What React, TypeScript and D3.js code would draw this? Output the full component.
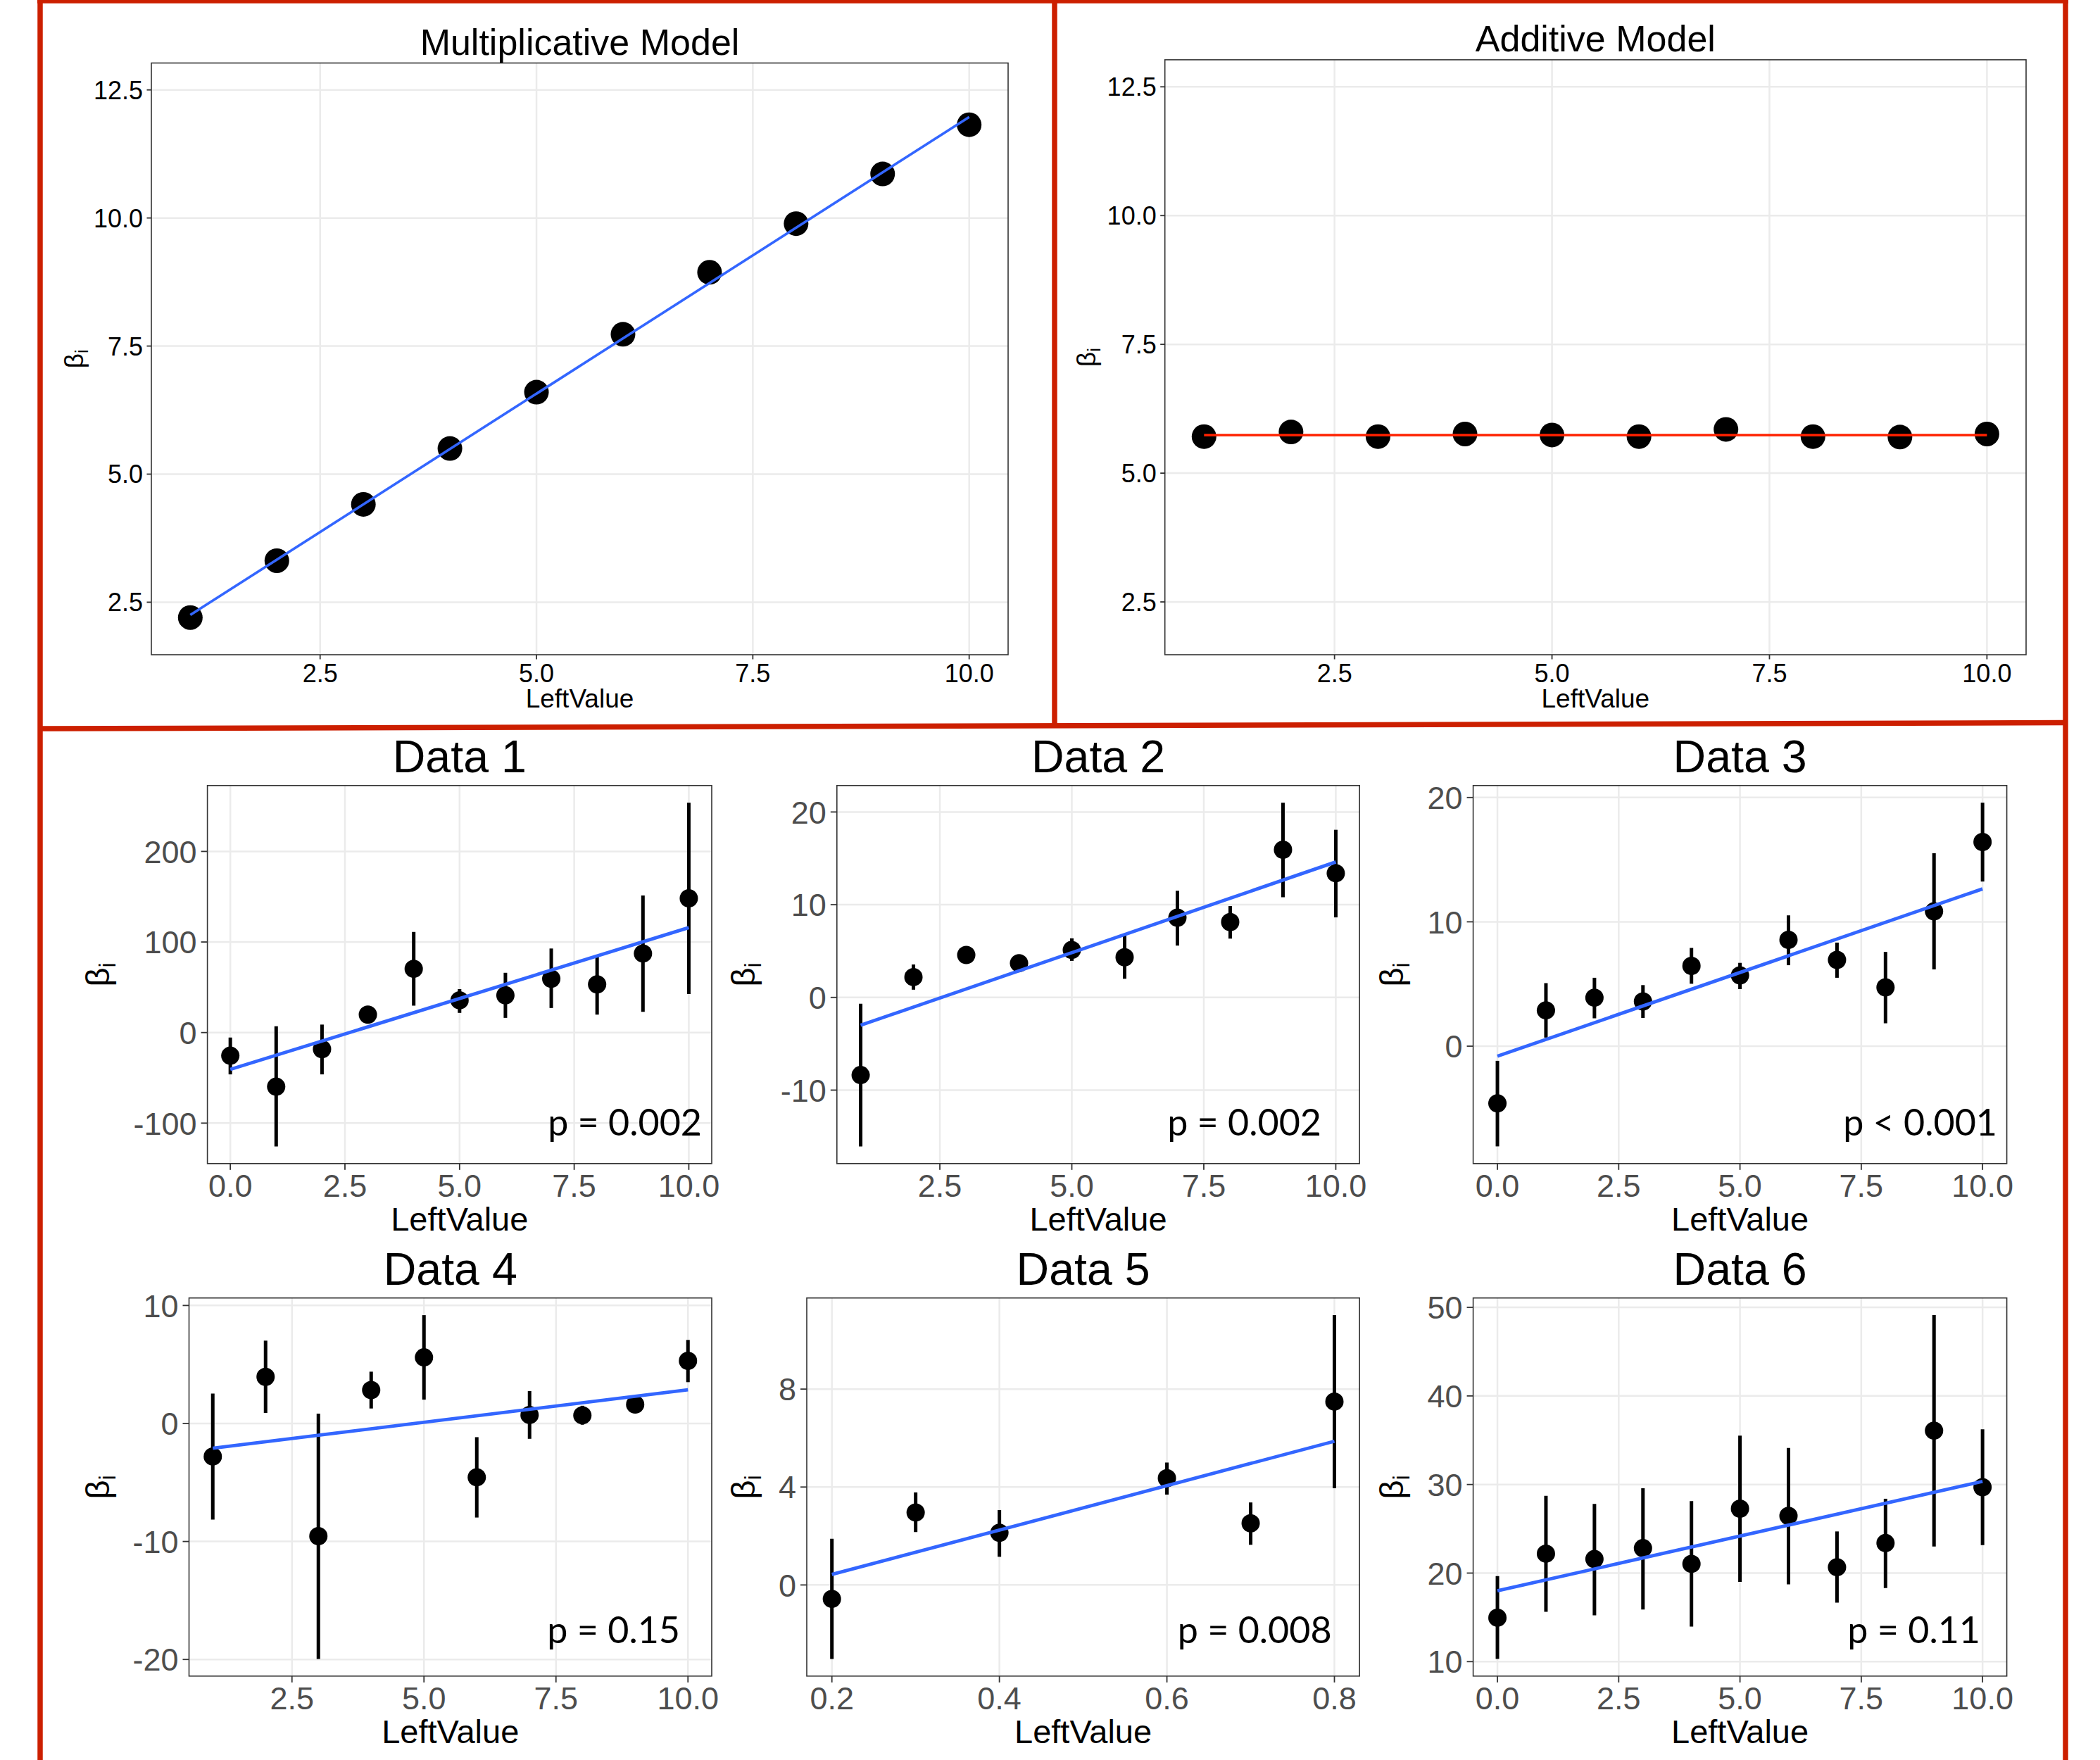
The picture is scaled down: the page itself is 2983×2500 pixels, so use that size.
import React from "react";
import * as d3 from "d3";

// ---------------- data ----------------
// Top row: Multiplicative / Additive models
const topLeftValue = [1, 2, 3, 4, 5, 6, 7, 8, 9, 10];
const multiplicativeBeta = [2.2, 3.31, 4.41, 5.5, 6.6, 7.73, 8.94, 9.89, 10.86, 11.82];
const multiplicativeFit = [2.25, 11.97];
const additiveBeta = [5.71, 5.8, 5.71, 5.76, 5.74, 5.71, 5.85, 5.71, 5.7, 5.76];
const additiveFit = [5.74, 5.74];
const topYRange = [2, 12.5];
const topYTicks = [2.5, 5.0, 7.5, 10.0, 12.5];
const topXTicks = [2.5, 5.0, 7.5, 10.0];

// Data 1
const d1X = [0, 1, 2, 3, 4, 5, 6, 7, 8, 9, 10];
const d1Beta = [-25.6, -59.8, -18.3, 19.8, 70.4, 35.6, 41.1, 59.4, 53.2, 87.3, 148.2];
const d1Lo = [-46.2, -125.7, -46.2, 14, 29.7, 21.7, 16.2, 27.1, 19.8, 22.8, 42.5];
const d1Hi = [-5.5, 7.0, 8.8, 26, 111.1, 48, 66, 92.8, 85.8, 151.4, 253.8];
const d1Fit = [-40.7, 115.9];
const d1YTicks = [-100, 0, 100, 200];
const d1XTicks = [0, 2.5, 5, 7.5, 10];

// Data 2
const d2X = [1, 2, 3, 4, 5, 6, 7, 8, 9, 10];
const d2Beta = [-8.38, 2.19, 4.58, 3.69, 5.12, 4.33, 8.6, 8.13, 15.93, 13.39];
const d2Lo = [-16.07, 0.83, 3.9, 3.0, 3.94, 2.01, 5.59, 6.34, 10.81, 8.63];
const d2Hi = [-0.68, 3.55, 5.3, 4.4, 6.37, 6.66, 11.5, 9.85, 21.0, 18.08];
const d2Fit = [-3.0, 14.61];
const d2YTicks = [-10, 0, 10, 20];
const d2XTicks = [2.5, 5, 7.5, 10];

// Data 3
const d3X = [0, 1, 2, 3, 4, 5, 6, 7, 8, 9, 10];
const d3Beta = [-4.6, 2.88, 3.9, 3.6, 6.46, 5.69, 8.55, 6.94, 4.73, 10.84, 16.42];
const d3Lo = [-8.06, 0.69, 2.24, 2.27, 5.02, 4.59, 6.51, 5.5, 1.84, 6.17, 13.24];
const d3Hi = [-1.18, 5.07, 5.5, 4.91, 7.9, 6.7, 10.52, 8.33, 7.58, 15.51, 19.58];
const d3Fit = [-0.8, 12.65];
const d3YTicks = [0, 10, 20];
const d3XTicks = [0, 2.5, 5, 7.5, 10];

// Data 4
const d4X = [1, 2, 3, 4, 5, 6, 7, 8, 9, 10];
const d4Beta = [-2.8, 3.95, -9.55, 2.83, 5.6, -4.56, 0.72, 0.69, 1.61, 5.31];
const d4Lo = [-8.14, 0.89, -19.95, 1.27, 2.02, -7.97, -1.3, -0.1, 0.9, 3.5];
const d4Hi = [2.54, 7.02, 0.84, 4.39, 9.18, -1.16, 2.75, 1.5, 2.3, 7.08];
const d4Fit = [-2.1, 2.86];
const d4YTicks = [-20, -10, 0, 10];
const d4XTicks = [2.5, 5, 7.5, 10];

// Data 5
const d5X = [0.2, 0.3, 0.4, 0.6, 0.7, 0.8];
const d5Beta = [-0.57, 2.96, 2.13, 4.36, 2.52, 7.49];
const d5Lo = [-3.02, 2.16, 1.15, 3.69, 1.64, 3.95];
const d5Hi = [1.89, 3.78, 3.06, 5.0, 3.37, 11.02];
const d5Fit = [0.43, 5.87];
const d5YTicks = [0, 4, 8];
const d5XTicks = [0.2, 0.4, 0.6, 0.8];

// Data 6
const d6X = [0, 1, 2, 3, 4, 5, 6, 7, 8, 9, 10];
const d6Beta = [14.96, 22.19, 21.58, 22.81, 21.04, 27.27, 26.46, 20.66, 23.39, 36.08, 29.7];
const d6Lo = [10.31, 15.62, 15.23, 15.89, 13.96, 19.0, 18.73, 16.66, 18.31, 23.0, 23.16];
const d6Hi = [19.66, 28.73, 27.81, 29.58, 28.12, 35.51, 34.12, 24.7, 28.39, 49.12, 36.24];
const d6Fit = [18.0, 30.35];
const d6YTicks = [10, 20, 30, 40, 50];
const d6XTicks = [0, 2.5, 5, 7.5, 10];

const pLabels = ["p = 0.002", "p = 0.002", "p < 0.001", "p = 0.15", "p = 0.008", "p = 0.11"];
const panelTitles = ["Data 1", "Data 2", "Data 3", "Data 4", "Data 5", "Data 6"];

// ---------------- helpers ----------------
const fmt1 = (v: number) => v.toFixed(1);
const fmtInt = (v: number) => String(v);
const expand = (a: number, b: number): [number, number] => {
  const d = (b - a) * 0.05;
  return [a - d, b + d];
};

const FONT = "'Liberation Sans', Arial, Helvetica, sans-serif";
const FRAME = "#CC1F00";

type Spec = {
  title: string;
  x: number[];
  y: number[];
  lo?: number[];
  hi?: number[];
  fit: number[];
  xTicks: number[];
  yTicks: number[];
  xFmt: (v: number) => string;
  yFmt: (v: number) => string;
  yRange?: number[];
  lineColor: string;
  p?: string;
};

type Layout = {
  x0: number; x1: number; y0: number; y1: number;
  ylabX: number; pX?: number; pY?: number;
};

type Style = {
  tickFont: number; tickColor: string; titleFont: number; axisFont: number;
  r: number; lineW: number; errW: number; tickLen: number; yLabGap: number;
  xLabBase: number; xTitleBase: number; titleBase: number;
};

const topStyle: Style = {
  tickFont: 36, tickColor: "#000", titleFont: 52, axisFont: 37,
  r: 17.5, lineW: 3.6, errW: 5, tickLen: 6.5, yLabGap: 5.5,
  xLabBase: 39, xTitleBase: 74.5, titleBase: 12,
};
const botStyle: Style = {
  tickFont: 45, tickColor: "#4D4D4D", titleFont: 64.5, axisFont: 47,
  r: 13, lineW: 4.8, errW: 5, tickLen: 9, yLabGap: 6,
  xLabBase: 47.5, xTitleBase: 95, titleBase: 18.5,
};

function Panel({ spec, lay, sty }: { spec: Spec; lay: Layout; sty: Style }) {
  const xd = d3.extent(spec.x) as [number, number];
  const xs = d3.scaleLinear().domain(expand(xd[0], xd[1])).range([lay.x0, lay.x1]);
  let yMin: number, yMax: number;
  if (spec.yRange) {
    yMin = spec.yRange[0];
    yMax = spec.yRange[1];
  } else {
    yMin = d3.min(spec.lo ?? spec.y) as number;
    yMax = d3.max(spec.hi ?? spec.y) as number;
  }
  const ys = d3.scaleLinear().domain(expand(yMin, yMax)).range([lay.y1, lay.y0]);
  const line = d3.line<[number, number]>().x((d) => xs(d[0])).y((d) => ys(d[1]));
  const fitPath = line([
    [xd[0], spec.fit[0]],
    [xd[1], spec.fit[1]],
  ]) as string;
  const cx = (lay.x0 + lay.x1) / 2;
  const cy = (lay.y0 + lay.y1) / 2;

  return (
    <g>
      {/* grid */}
      {spec.xTicks.map((t, i) => (
        <line key={"gx" + i} x1={xs(t)} x2={xs(t)} y1={lay.y0} y2={lay.y1} stroke="#EBEBEB" strokeWidth={2.5} />
      ))}
      {spec.yTicks.map((t, i) => (
        <line key={"gy" + i} x1={lay.x0} x2={lay.x1} y1={ys(t)} y2={ys(t)} stroke="#EBEBEB" strokeWidth={2.5} />
      ))}
      {/* error bars */}
      {spec.lo &&
        spec.hi &&
        spec.x.map((xv, i) => (
          <line key={"e" + i} x1={xs(xv)} x2={xs(xv)} y1={ys(spec.lo![i])} y2={ys(spec.hi![i])} stroke="#000" strokeWidth={sty.errW} />
        ))}
      {/* points */}
      {spec.x.map((xv, i) => (
        <circle key={"p" + i} cx={xs(xv)} cy={ys(spec.y[i])} r={sty.r} fill="#000" />
      ))}
      {/* fit line */}
      <path d={fitPath} stroke={spec.lineColor} strokeWidth={sty.lineW} fill="none" />
      {/* border */}
      <rect x={lay.x0} y={lay.y0} width={lay.x1 - lay.x0} height={lay.y1 - lay.y0} fill="none" stroke="#333" strokeWidth={1.6} />
      {/* ticks */}
      {spec.yTicks.map((t, i) => (
        <g key={"ty" + i}>
          <line x1={lay.x0 - sty.tickLen} x2={lay.x0} y1={ys(t)} y2={ys(t)} stroke="#333" strokeWidth={1.8} />
          <text
            x={lay.x0 - sty.tickLen - sty.yLabGap}
            y={ys(t)}
            dy="0.36em"
            textAnchor="end"
            fontSize={sty.tickFont}
            fill={sty.tickColor}
          >
            {spec.yFmt(t)}
          </text>
        </g>
      ))}
      {spec.xTicks.map((t, i) => (
        <g key={"tx" + i}>
          <line x1={xs(t)} x2={xs(t)} y1={lay.y1} y2={lay.y1 + sty.tickLen} stroke="#333" strokeWidth={1.8} />
          <text x={xs(t)} y={lay.y1 + sty.xLabBase} textAnchor="middle" fontSize={sty.tickFont} fill={sty.tickColor}>
            {spec.xFmt(t)}
          </text>
        </g>
      ))}
      {/* axis titles */}
      <text x={cx} y={lay.y1 + sty.xTitleBase} textAnchor="middle" fontSize={sty.axisFont} fill="#000">
        LeftValue
      </text>
      <text transform={`translate(${lay.ylabX},${cy}) rotate(-90)`} textAnchor="middle" fontSize={sty.axisFont} fill="#000">
        β
        <tspan fontSize={sty.axisFont * 0.7} dy={sty.axisFont * 0.2}>
          i
        </tspan>
      </text>
      {/* title */}
      <text x={cx} y={lay.y0 - sty.titleBase} textAnchor="middle" fontSize={sty.titleFont} fill="#000">
        {spec.title}
      </text>
      {spec.p && lay.pX !== undefined && (
        <text x={lay.pX} y={lay.pY} textAnchor="end" fontSize={52} fill="#000" fontFamily="Lato, 'Open Sans', sans-serif">
          {spec.p}
        </text>
      )}
    </g>
  );
}

const topSpecs: Spec[] = [
  {
    title: "Multiplicative Model", x: topLeftValue, y: multiplicativeBeta, fit: multiplicativeFit,
    xTicks: topXTicks, yTicks: topYTicks, xFmt: fmt1, yFmt: fmt1, yRange: topYRange, lineColor: "#3366FF",
  },
  {
    title: "Additive Model", x: topLeftValue, y: additiveBeta, fit: additiveFit,
    xTicks: topXTicks, yTicks: topYTicks, xFmt: fmt1, yFmt: fmt1, yRange: topYRange, lineColor: "#FF2200",
  },
];
const topLayouts: Layout[] = [
  { x0: 215, x1: 1432, y0: 89.5, y1: 930, ylabX: 118 },
  { x0: 1654.7, x1: 2878, y0: 84.9, y1: 930, ylabX: 1556 },
];

const botX = [d1X, d2X, d3X, d4X, d5X, d6X];
const botBeta = [d1Beta, d2Beta, d3Beta, d4Beta, d5Beta, d6Beta];
const botLo = [d1Lo, d2Lo, d3Lo, d4Lo, d5Lo, d6Lo];
const botHi = [d1Hi, d2Hi, d3Hi, d4Hi, d5Hi, d6Hi];
const botFit = [d1Fit, d2Fit, d3Fit, d4Fit, d5Fit, d6Fit];
const botYTicks = [d1YTicks, d2YTicks, d3YTicks, d4YTicks, d5YTicks, d6YTicks];
const botXTicks = [d1XTicks, d2XTicks, d3XTicks, d4XTicks, d5XTicks, d6XTicks];

const botSpecs: Spec[] = panelTitles.map((t, i) => ({
  title: t, x: botX[i], y: botBeta[i], lo: botLo[i], hi: botHi[i], fit: botFit[i],
  xTicks: botXTicks[i], yTicks: botYTicks[i], xFmt: fmt1, yFmt: fmtInt, lineColor: "#3366FF", p: pLabels[i],
}));

const botLayouts: Layout[] = [
  { x0: 294.6, x1: 1011, y0: 1115.8, y1: 1652.8, ylabX: 155, pX: 997, pY: 1613 },
  { x0: 1188.8, x1: 1931.2, y0: 1115.8, y1: 1652.8, ylabX: 1072, pX: 1877, pY: 1613 },
  { x0: 2092.6, x1: 2850.6, y0: 1115.8, y1: 1652.8, ylabX: 1993, pX: 2837, pY: 1613 },
  { x0: 268.5, x1: 1011, y0: 1843.7, y1: 2380.8, ylabX: 155, pX: 966, pY: 2334 },
  { x0: 1146, x1: 1931.2, y0: 1843.7, y1: 2380.8, ylabX: 1072, pX: 1891.6, pY: 2334 },
  { x0: 2092.6, x1: 2850.6, y0: 1843.7, y1: 2380.8, ylabX: 1993, pX: 2813, pY: 2334 },
];

export default function App() {
  return (
    <svg
      width={2983}
      height={2500}
      viewBox="0 0 2983 2500"
      style={{ position: "absolute", left: 0, top: 0, background: "#fff" }}
      fontFamily={FONT}
    >
      <rect x={0} y={0} width={2983} height={2500} fill="#fff" />
      {topSpecs.map((s, i) => (
        <Panel key={"t" + i} spec={s} lay={topLayouts[i]} sty={topStyle} />
      ))}
      {botSpecs.map((s, i) => (
        <Panel key={"b" + i} spec={s} lay={botLayouts[i]} sty={botStyle} />
      ))}
      {/* red frames */}
      <g stroke={FRAME} strokeWidth={7.5} fill="none">
        <line x1={57} x2={57} y1={0} y2={2500} />
        <line x1={2934} x2={2934} y1={0} y2={2500} />
        <line x1={53} x2={2938} y1={1} y2={1} />
        <line x1={1498} x2={1498} y1={0} y2={1031} />
        <line x1={57} x2={2934} y1={1035} y2={1026.5} />
      </g>
    </svg>
  );
}
